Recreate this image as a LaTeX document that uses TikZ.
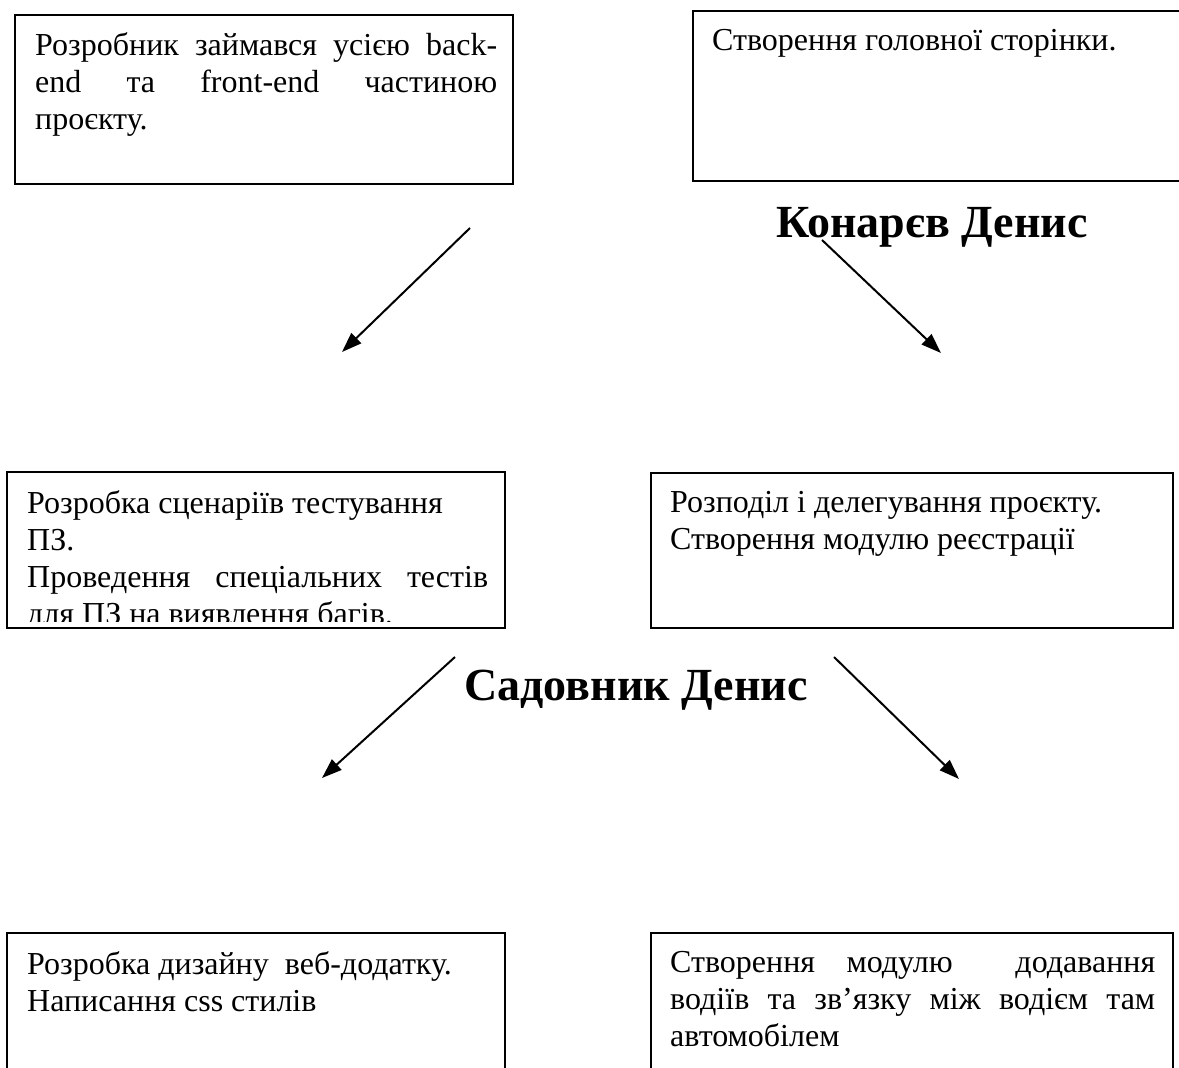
\documentclass[tikz,border=0pt]{standalone}
\usepackage{fontspec}
\setmainfont{Liberation Serif}
\usetikzlibrary{arrows.meta}
\tolerance=10000
\tikzset{
	task_box/.style = {
		rectangle,
		draw=black,
		line width=2pt,
		anchor=north west,
		inner sep=0pt
	},
	task_text/.style = {
		anchor=north west,
		inner sep=0pt,
		align=justify,
		font=\fontsize{32}{37}\selectfont
	},
	person_name/.style = {
		anchor=base,
		inner sep=0pt,
		font=\fontsize{46}{52}\selectfont\bfseries
	},
	task_arrow/.style = {
		line width=2pt,
		-{Triangle[length=20pt,width=14pt]}
	}
}
\begin{document}
\begin{tikzpicture}[x=1pt, y=-1pt]
\path [use as bounding box, clip] (0,0) rectangle (1179,1068);
\node [task_box, minimum width=498pt, minimum height=169pt] (box_full) at (14,14) {};
\node [task_text, text width=462pt] (txt_full) at ([shift={(21pt,-18pt)}]box_full.north west)
	{Розробник займався усією back-\linebreak end та front-end частиною\linebreak проєкту.};
\node [task_box, minimum width=498pt, minimum height=170pt] (box_main) at (692,10) {};
\node [task_text, text width=462pt] (txt_main) at ([shift={(20pt,-19pt)}]box_main.north west)
	{Створення головної сторінки.};
\node [person_name] (konarev) at (932,237) {Конарєв Денис};
\node [task_box, minimum width=498pt, minimum height=156pt] (box_test) at (6,471) {};
\begin{scope}
\clip (box_test.north west) rectangle ([yshift=8pt]box_test.south east);
\node [task_text, text width=461pt] (txt_test) at ([shift={(21pt,-19pt)}]box_test.north west)
	{Розробка сценаріїв тестування\\ПЗ.\\Проведення спеціальних тестів\linebreak для ПЗ на виявлення багів.};
\end{scope}
\node [task_box, minimum width=522pt, minimum height=155pt] (box_reg) at (650,472) {};
\node [task_text, text width=485pt] (txt_reg) at ([shift={(20pt,-19pt)}]box_reg.north west)
	{Розподіл і делегування проєкту.\\Створення модулю реєстрації};
\node [person_name] (sadovnyk) at (636,700) {Садовник Денис};
\node [task_box, minimum width=498pt, minimum height=170pt] (box_design) at (6,932) {};
\node [task_text, text width=461pt] (txt_design) at ([shift={(21pt,-19pt)}]box_design.north west)
	{Розробка дизайну\ \ веб-додатку.\\Написання css стилів};
\node [task_box, minimum width=522pt, minimum height=170pt] (box_drivers) at (650,932) {};
\node [task_text, text width=485pt] (txt_drivers) at ([shift={(20pt,-19pt)}]box_drivers.north west)
	{Створення модулю\ \ додавання\linebreak водіїв та зв’язку між водієм там\linebreak автомобілем};
\coordinate (k_left_from) at (470,228);
\coordinate (k_left_to) at (342,352);
\coordinate (k_right_from) at (822,240);
\coordinate (k_right_to) at (941,353);
\coordinate (s_left_from) at (455,657);
\coordinate (s_left_to) at (322,778);
\coordinate (s_right_from) at (834,657);
\coordinate (s_right_to) at (959,779);
\draw [task_arrow] (k_left_from) -- (k_left_to);
\draw [task_arrow] (k_right_from) -- (k_right_to);
\draw [task_arrow] (s_left_from) -- (s_left_to);
\draw [task_arrow] (s_right_from) -- (s_right_to);
\end{tikzpicture}
\end{document}
